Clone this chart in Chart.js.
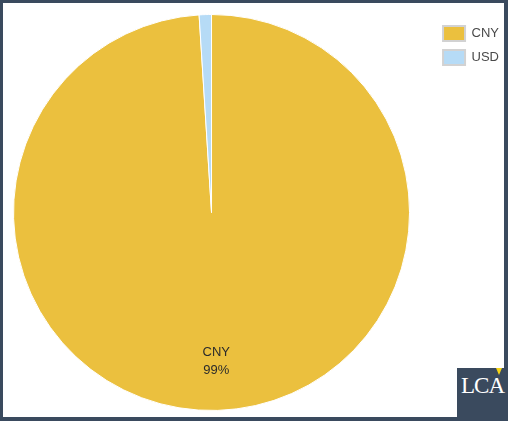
<!DOCTYPE html>
<html>
<head>
<meta charset="utf-8">
<script src="https://cdn.jsdelivr.net/npm/chart.js@4.4.0/dist/chart.umd.min.js"></script>
<style>
  html, body { margin: 0; padding: 0; background: #ffffff; }
  #frame {
    position: absolute; left: 0; top: 0; width: 508px; height: 421px;
    box-sizing: border-box; border-style: solid; border-color: #3a4a5e;
    border-width: 3px 4px 4px 3px; background: #fff; overflow: hidden;
  }
  #wrap { position: absolute; left: -14px; top: 0; width: 520px; height: 414px; }
  #logo {
    position: absolute; left: 457px; top: 368px; width: 51px; height: 53px;
    background: #3a4a5e;
  }
  #logo span {
    position: absolute; left: 4px; top: 5px; color: #fff;
    font-family: "Liberation Serif", "DejaVu Serif", serif; font-size: 23px;
    letter-spacing: -1px; line-height: 26px;
  }
  #tri {
    position: absolute; left: 39px; top: 0px; width: 0; height: 0;
    border-left: 3px solid transparent; border-right: 3px solid transparent;
    border-top: 7px solid #f5d417;
  }
</style>
</head>
<body>
<div id="frame"><div id="wrap"><canvas id="c"></canvas></div></div>
<div id="logo"><span>LCA</span><div id="tri"></div></div>
<script>
const categories = ["CNY", "USD"];
const shares = [99, 1];
const percentLabels = ["99%", "1%"];
const sliceColors = ["#ebc03e", "#b6dbf6"];

const sliceLabels = {
  id: "sliceLabels",
  afterDatasetsDraw(chart) {
    const ctx = chart.ctx;
    const meta = chart.getDatasetMeta(0);
    meta.data.forEach((arc, i) => {
      if (shares[i] < 5) return;
      const p = arc.getProps(["x", "y", "startAngle", "endAngle", "outerRadius"], true);
      const mid = (p.startAngle + p.endAngle) / 2;
      const r = p.outerRadius * 0.755;
      const x = p.x + Math.cos(mid) * r;
      const y = p.y + Math.sin(mid) * r;
      ctx.save();
      ctx.fillStyle = "#2b2b2b";
      ctx.font = "13px 'Liberation Sans', Arial, sans-serif";
      ctx.textAlign = "center";
      ctx.textBaseline = "middle";
      ctx.fillText(categories[i], x, y - 9);
      ctx.fillText(percentLabels[i], x, y + 9);
      ctx.restore();
    });
  }
};

new Chart(document.getElementById("c"), {
  type: "pie",
  data: {
    labels: categories,
    datasets: [{
      data: shares,
      backgroundColor: sliceColors,
      borderColor: "#ffffff",
      borderWidth: 1
    }]
  },
  options: {
    responsive: true,
    maintainAspectRatio: false,
    animation: false,
    layout: { padding: { left: 0, right: 0, top: 11, bottom: 6 } },
    plugins: {
      tooltip: { enabled: false },
      legend: {
        position: "right",
        align: "start",
        title: {
          display: true,
          text: " ",
          padding: 0,
          font: { size: 3, lineHeight: 1 }
        },
        labels: {
          boxWidth: 22,
          boxHeight: 15,
          padding: 9,
          color: "#4a4a4a",
          font: { family: "'Liberation Sans', Arial, sans-serif", size: 13 },
          generateLabels(chart) {
            return categories.map((c, i) => ({
              text: c,
              fillStyle: sliceColors[i],
              strokeStyle: "#d2d2d2",
              lineWidth: 2,
              hidden: false,
              index: i,
              fontColor: "#4a4a4a"
            }));
          }
        }
      }
    }
  },
  plugins: [sliceLabels]
});
</script>
</body>
</html>
